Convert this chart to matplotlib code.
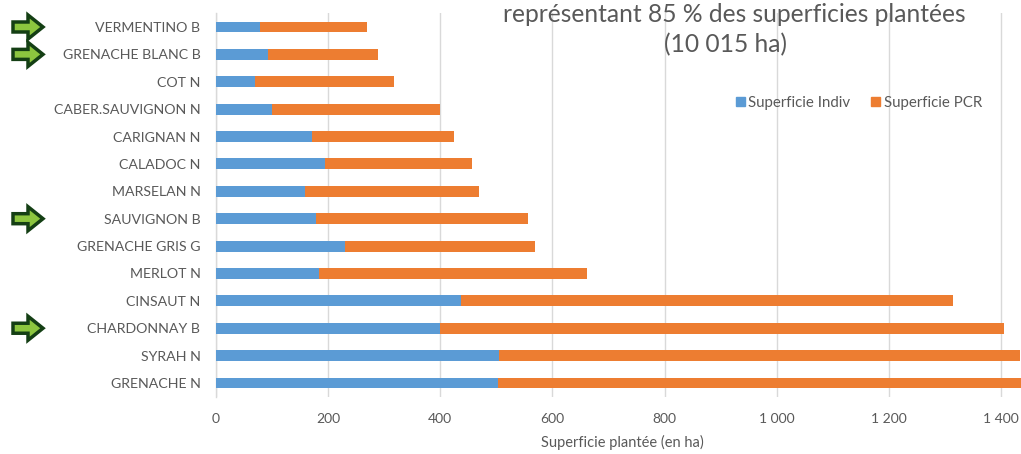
import matplotlib
matplotlib.use("Agg")
import matplotlib.pyplot as plt
from matplotlib.patches import Polygon, Patch
import matplotlib.transforms as mtransforms

plt.rcParams['font.family'] = ['Lato', 'DejaVu Sans']

# ---- data (top to bottom) ----
categories = ["VERMENTINO B", "GRENACHE BLANC B", "COT N", "CABER.SAUVIGNON N",
              "CARIGNAN N", "CALADOC N", "MARSELAN N", "SAUVIGNON B",
              "GRENACHE GRIS G", "MERLOT N", "CINSAUT N", "CHARDONNAY B",
              "SYRAH N", "GRENACHE N"]
superficie_indiv = [79, 94, 70, 101, 172, 194, 160, 179, 231, 184, 438, 400, 505, 503]
superficie_pcr = [191, 196, 247, 298, 253, 263, 310, 378, 338, 477, 877, 1006, 929, 942]
arrow_rows = ["VERMENTINO B", "GRENACHE BLANC B", "SAUVIGNON B", "CHARDONNAY B"]
x_ticks = [0, 200, 400, 600, 800, 1000, 1200, 1400]
x_tick_labels = ["0", "200", "400", "600", "800", "1 000", "1 200", "1 400"]
title_lines = ["représentant 85 % des superficies plantées", "(10 015 ha)"]
legend_labels = ["Superficie Indiv", "Superficie PCR"]
x_label = "Superficie plantée (en ha)"

W, H = 1021, 454
fig = plt.figure(figsize=(W / 100, H / 100), dpi=100)

blue = "#5B9BD5"
orange = "#ED7D31"
grid_c = "#D9D9D9"
text_c = "#595959"

xmax = 1450
px_per_ha = 0.561
left_px, top_px, bot_px = 215.7, 13.3, 396.7
ax = fig.add_axes([left_px / W, 1 - bot_px / H, xmax * px_per_ha / W, (bot_px - top_px) / H])

ypos = list(range(len(categories)))
ax.barh(ypos, superficie_indiv, height=0.4, color=blue, label=legend_labels[0], zorder=3)
ax.barh(ypos, superficie_pcr, left=superficie_indiv, height=0.4, color=orange,
        label=legend_labels[1], zorder=3)

ax.set_ylim(len(categories) - 0.5, -0.5)
ax.set_xlim(0, xmax)
ax.set_yticks(ypos)
ax.set_yticklabels(categories, fontsize=10.2, color=text_c)
ax.set_xticks(x_ticks)
ax.set_xticklabels(x_tick_labels, fontsize=10, color=text_c)
ax.tick_params(axis='y', length=0, pad=11)
ax.tick_params(axis='x', length=0, pad=12)
ax.xaxis.grid(True, color=grid_c, linewidth=1.0, zorder=0)
ax.set_axisbelow(True)
for s in ["top", "right", "bottom"]:
    ax.spines[s].set_visible(False)
ax.spines["left"].set_color(grid_c)
ax.spines["left"].set_linewidth(1.0)
ax.set_xlabel(x_label, fontsize=10.5, color=text_c, labelpad=7)

# title (partly cropped in reference)
fig.text(734 / W, 1 - 14 / H, title_lines[0], ha='center', va='center', fontsize=17.7, color=text_c)
fig.text(726 / W, 1 - 45 / H, title_lines[1], ha='center', va='center', fontsize=17.7, color=text_c)

# legend
handles = [Patch(color=blue), Patch(color=orange)]
fig.legend(handles, legend_labels, loc='center', bbox_to_anchor=(859 / W, 1 - 103 / H),
           ncol=2, frameon=False, fontsize=10.8, handlelength=0.6, handleheight=0.6,
           handletextpad=0.25, columnspacing=1.4, labelcolor=text_c)

# green arrows
blend = mtransforms.blended_transform_factory(fig.transFigure, ax.transData)
px_unit = (bot_px - top_px) / len(categories)  # pixels per category
def fx(p):
    return p / W
for name in arrow_rows:
    y = categories.index(name)
    sh = 5.0 / px_unit
    hh = 12.0 / px_unit
    pts = [(fx(13), y - sh), (fx(28), y - sh), (fx(28), y - hh), (fx(43), y),
           (fx(28), y + hh), (fx(28), y + sh), (fx(13), y + sh)]
    ax.add_patch(Polygon(pts, closed=True, transform=blend, clip_on=False,
                         facecolor="#8CC63F", edgecolor="#143F14", linewidth=2.5,
                         joinstyle='miter', zorder=5))

fig.savefig("out.png", dpi=100)
